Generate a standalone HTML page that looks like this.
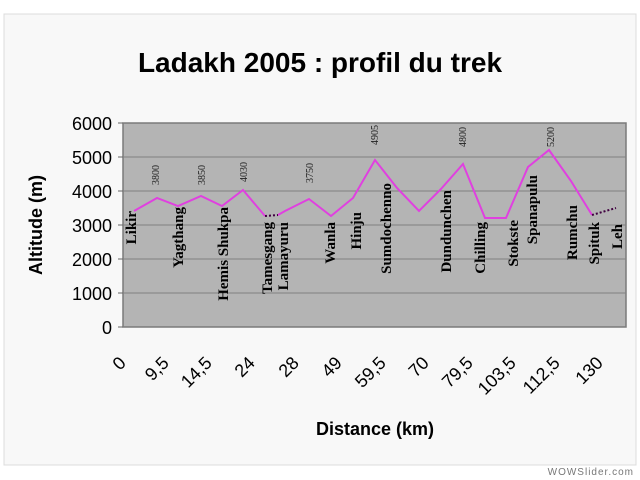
<!DOCTYPE html>
<html><head><meta charset="utf-8"><style>
html,body{margin:0;padding:0;background:#fff;}
svg{display:block;}
</style></head><body>
<svg width="640" height="480" viewBox="0 0 640 480" xmlns="http://www.w3.org/2000/svg">
<rect x="0" y="0" width="640" height="480" fill="#ffffff"/>
<rect x="4" y="14" width="632" height="451" fill="#f8f8f8" stroke="#dcdcdc"/>
<text x="320" y="72" text-anchor="middle" font-family="Liberation Sans, sans-serif" font-weight="bold" font-size="28" fill="#000">Ladakh 2005 : profil du trek</text>
<rect x="123" y="123" width="503" height="204" fill="#b4b4b4" stroke="#7a7a7a" stroke-width="1.5"/>
<g stroke="#808080" stroke-width="1">
<line x1="123" y1="157" x2="626" y2="157"/><line x1="123" y1="191" x2="626" y2="191"/>
<line x1="123" y1="225" x2="626" y2="225"/><line x1="123" y1="259" x2="626" y2="259"/>
<line x1="123" y1="293" x2="626" y2="293"/>
</g>
<g stroke="#666" stroke-width="1">
<line x1="118" y1="123" x2="123" y2="123"/><line x1="118" y1="157" x2="123" y2="157"/><line x1="118" y1="191" x2="123" y2="191"/><line x1="118" y1="225" x2="123" y2="225"/><line x1="118" y1="259" x2="123" y2="259"/><line x1="118" y1="293" x2="123" y2="293"/><line x1="118" y1="327" x2="123" y2="327"/>
</g>
<g font-family="Liberation Sans, sans-serif" font-size="18" text-anchor="end" fill="#000">
<text x="112" y="130">6000</text><text x="112" y="164">5000</text><text x="112" y="198">4000</text><text x="112" y="232">3000</text><text x="112" y="266">2000</text><text x="112" y="300">1000</text><text x="112" y="334">0</text>
</g>
<text transform="translate(42,225) rotate(-90)" text-anchor="middle" font-family="Liberation Sans, sans-serif" font-weight="bold" font-size="18">Altitude (m)</text>
<text x="375" y="435" text-anchor="middle" font-family="Liberation Sans, sans-serif" font-weight="bold" font-size="18">Distance (km)</text>
<g font-family="Liberation Sans, sans-serif" font-size="18" text-anchor="end">
<text transform="translate(127,364) rotate(-45)">0</text>
<text transform="translate(170,364) rotate(-45)">9,5</text>
<text transform="translate(213,364) rotate(-45)">14,5</text>
<text transform="translate(256,364) rotate(-45)">24</text>
<text transform="translate(300,364) rotate(-45)">28</text>
<text transform="translate(343,364) rotate(-45)">49</text>
<text transform="translate(387,364) rotate(-45)">59,5</text>
<text transform="translate(430,364) rotate(-45)">70</text>
<text transform="translate(474,364) rotate(-45)">79,5</text>
<text transform="translate(517,364) rotate(-45)">103,5</text>
<text transform="translate(561,364) rotate(-45)">112,5</text>
<text transform="translate(604,364) rotate(-45)">130</text>
</g>
<polyline fill="none" stroke="#e040e0" stroke-width="2" points="134,211 157,198 178,206 201,196 222,206 243,190 265,216"/>
<polyline fill="none" stroke="#e040e0" stroke-width="2" points="278,215 285,211 309,199 331,216 353,198 375,160 397,188 419,211 441,189 463,164 485,218 506,218 528,167 549,150 571,181 592,215"/>
<line x1="265" y1="216" x2="278" y2="215" stroke="#400040" stroke-width="2" stroke-dasharray="2,2"/>
<line x1="592" y1="215" x2="616" y2="208" stroke="#400040" stroke-width="2" stroke-dasharray="2,2"/>
<g font-family="Liberation Serif, serif" font-weight="bold" font-size="15" text-anchor="end" fill="#000">
<text transform="translate(136,211) rotate(-90)">Likir</text>
<text transform="translate(183,207) rotate(-90)">Yagthang</text>
<text transform="translate(228,207) rotate(-90)">Hemis Shukpa</text>
<text transform="translate(272,222) rotate(-90)">Tamesgang</text>
<text transform="translate(288,222) rotate(-90)">Lamayuru</text>
<text transform="translate(335,222) rotate(-90)">Wanla</text>
<text transform="translate(361,212) rotate(-90)">Hinju</text>
<text transform="translate(391,183) rotate(-90)">Sumdochenno</text>
<text transform="translate(451,190) rotate(-90)">Dundunchen</text>
<text transform="translate(485,222) rotate(-90)">Chilling</text>
<text transform="translate(518,220) rotate(-90)">Stokste</text>
<text transform="translate(537,175) rotate(-90)">Spanapulu</text>
<text transform="translate(577,205) rotate(-90)">Rumchu</text>
<text transform="translate(599,222) rotate(-90)">Spituk</text>
<text transform="translate(622,224) rotate(-90)">Leh</text>
</g>
<g font-family="Liberation Serif, serif" font-size="10" text-anchor="end" fill="#222">
<text transform="translate(159,165) rotate(-90)">3800</text>
<text transform="translate(205,165) rotate(-90)">3850</text>
<text transform="translate(247,162) rotate(-90)">4030</text>
<text transform="translate(313,163) rotate(-90)">3750</text>
<text transform="translate(378,125) rotate(-90)">4905</text>
<text transform="translate(466,127) rotate(-90)">4800</text>
<text transform="translate(554,127) rotate(-90)">5200</text>
</g>
<text x="634" y="475" text-anchor="end" font-family="Liberation Sans, sans-serif" font-size="10" letter-spacing="1" fill="#777">WOWSlider.com</text>
</svg>
</body></html>
